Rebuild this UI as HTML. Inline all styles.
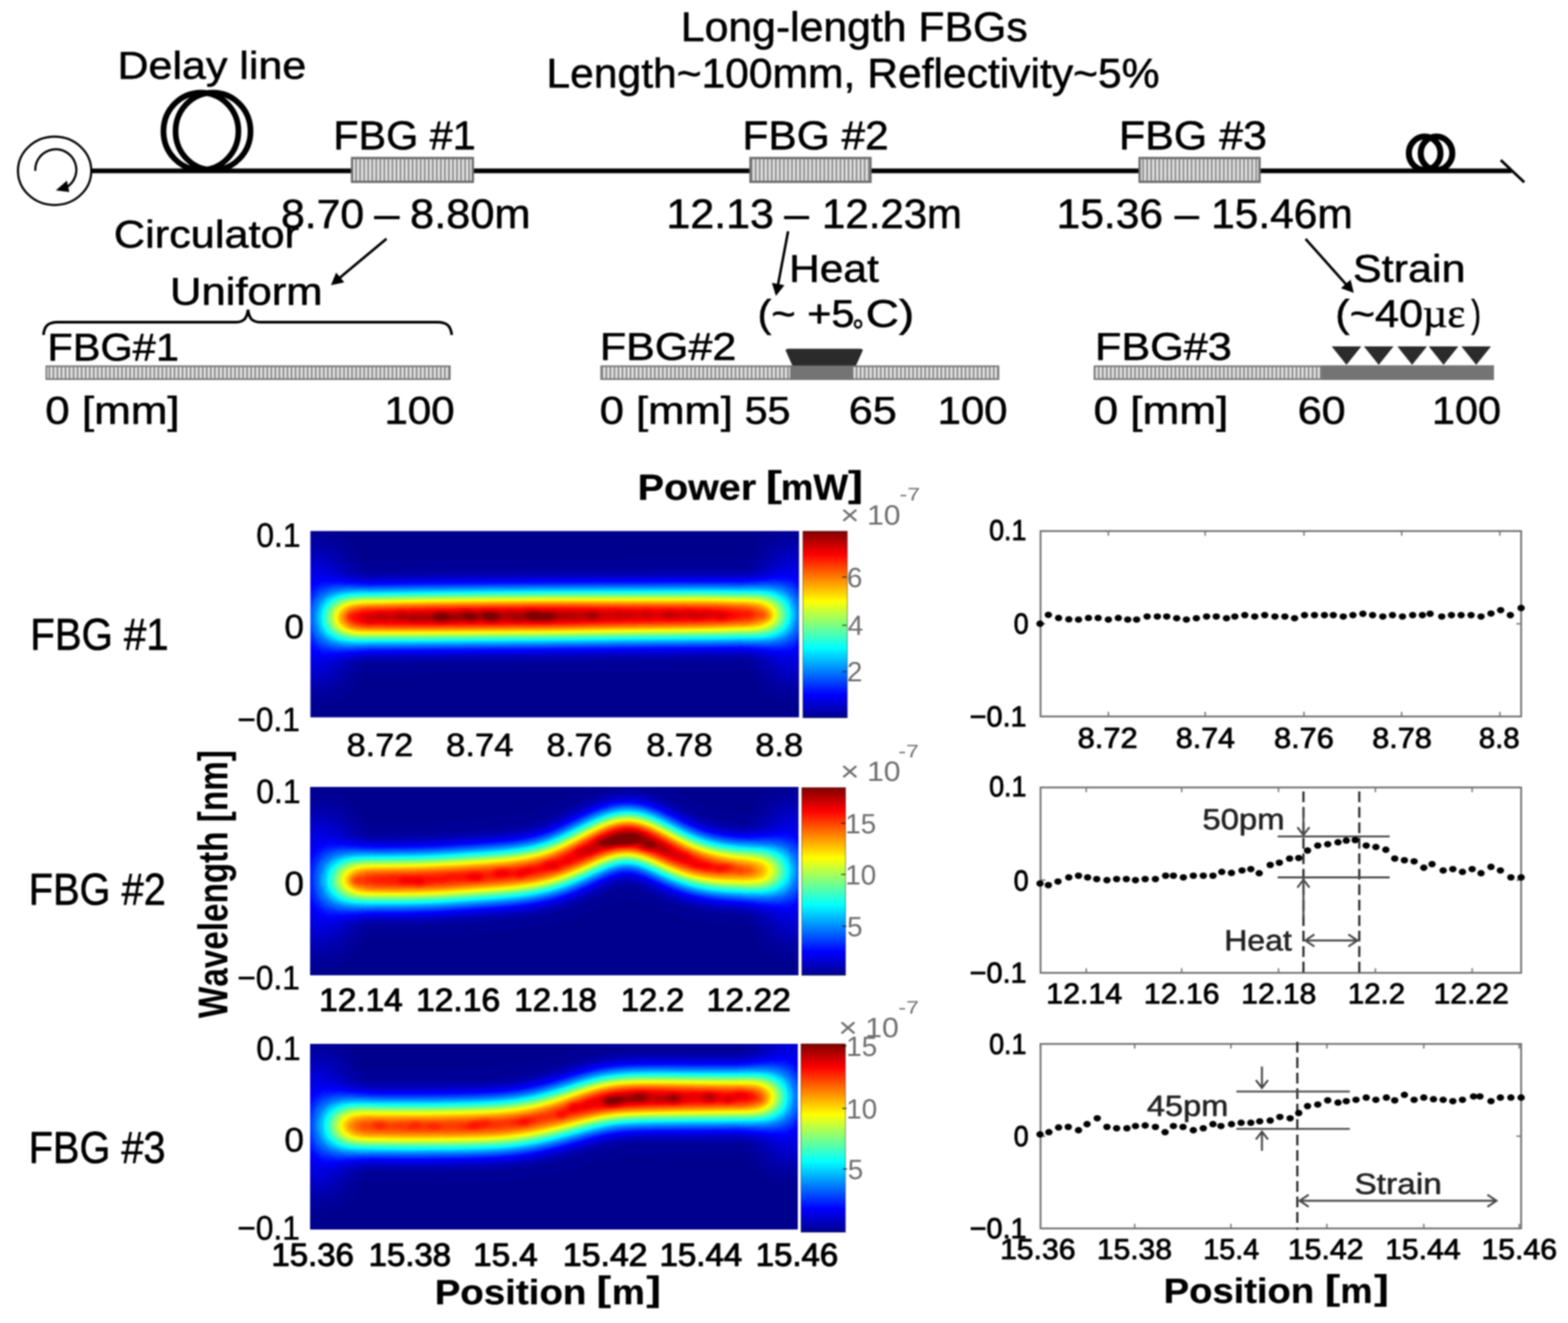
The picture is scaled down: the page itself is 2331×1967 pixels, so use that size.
<!DOCTYPE html>
<html lang="en"><head><meta charset="utf-8"><title>Long-length FBGs</title>
<style>
html,body{margin:0;padding:0;background:#fff;}
body{width:2331px;height:1967px;overflow:hidden;}
svg{display:block;filter:blur(1px);}
text{white-space:pre;font-kerning:none;text-rendering:geometricPrecision;}
</style></head><body>
<svg width="2331" height="1967" viewBox="0 0 2331 1967">
<defs>
<pattern id="stripe" width="6" height="10" patternUnits="userSpaceOnUse">
<rect width="6" height="10" fill="#e4e4e4"/><rect x="0" width="2.7" height="10" fill="#8e8e8e"/>
</pattern>
<linearGradient id="jetbar" x1="0" y1="1" x2="0" y2="0">
<stop offset="0" stop-color="#00008f"/><stop offset="0.125" stop-color="#0000ff"/><stop offset="0.375" stop-color="#00ffff"/><stop offset="0.625" stop-color="#ffff00"/><stop offset="0.875" stop-color="#ff0000"/><stop offset="1" stop-color="#800000"/>
</linearGradient>
<filter id="jet" filterUnits="userSpaceOnUse" x="300" y="600" width="1100" height="1400" color-interpolation-filters="sRGB">
<feComponentTransfer>
<feFuncR type="table" tableValues="0 0 0 0 0 0 0 0 0 0 0.167 0.333 0.5 0.667 0.833 1 1 1 1 1 1 1 0.833 0.667 0.5 0.5 0.5 0.5 0.5 0.5 0.5 0.5 0.5 0.5 0.5 0.5 0.5 0.5 0.5 0.5 0.5 0.5 0.5 0.5 0.5 0.5 0.5 0.5 0.5 0.5 0.5"/>
<feFuncG type="table" tableValues="0 0 0 0 0.167 0.333 0.5 0.667 0.833 1 1 1 1 1 1 1 0.833 0.667 0.5 0.333 0.167 0 0 0 0 0 0 0 0 0 0 0 0 0 0 0 0 0 0 0 0 0 0 0 0 0 0 0 0 0 0"/>
<feFuncB type="table" tableValues="0.562 0.708 0.854 1 1 1 1 1 1 1 0.833 0.667 0.5 0.333 0.167 0 0 0 0 0 0 0 0 0 0 0 0 0 0 0 0 0 0 0 0 0 0 0 0 0 0 0 0 0 0 0 0 0 0 0 0"/>
</feComponentTransfer>
</filter>
<filter id="bA" filterUnits="userSpaceOnUse" x="300" y="600" width="1100" height="1400" color-interpolation-filters="sRGB"><feGaussianBlur stdDeviation="24"/></filter>
<filter id="bB" filterUnits="userSpaceOnUse" x="300" y="600" width="1100" height="1400" color-interpolation-filters="sRGB"><feGaussianBlur stdDeviation="30"/></filter>
<filter id="bC" filterUnits="userSpaceOnUse" x="300" y="600" width="1100" height="1400" color-interpolation-filters="sRGB"><feGaussianBlur stdDeviation="4.5"/></filter>
<clipPath id="c1"><rect x="461.5" y="789.5" width="726.3" height="277"/></clipPath>
<clipPath id="c2"><rect x="461.5" y="1170.8" width="725.5" height="278.6"/></clipPath>
<clipPath id="c3"><rect x="461.5" y="1552.2" width="724.5" height="275"/></clipPath>
</defs>

<rect width="2331" height="1967" fill="#fff"/>
<g id="all">
<line x1="135" y1="254.0" x2="2247" y2="254.0" stroke="#000" stroke-width="7"/>
<ellipse cx="81.2" cy="254" rx="54.5" ry="50.8" fill="#fff" stroke="#000" stroke-width="3.2"/>
<path d="M52.5,254 A30.5,30.5 0 1 1 98,279" fill="none" stroke="#000" stroke-width="3.2"/>
<path d="M83,283 L99.5,268.5 L103,285.5 Z" fill="#000"/>
<ellipse cx="298.7" cy="195.2" rx="55.7" ry="57.5" fill="none" stroke="#000" stroke-width="8.5"/>
<ellipse cx="316.7" cy="195.2" rx="55.7" ry="57.5" fill="none" stroke="#000" stroke-width="8.5"/>
<ellipse cx="2117.9" cy="227.8" rx="23.5" ry="24.7" fill="none" stroke="#000" stroke-width="9"/>
<ellipse cx="2135.5" cy="227.8" rx="23.5" ry="24.7" fill="none" stroke="#000" stroke-width="9"/>
<line x1="2231" y1="238" x2="2266" y2="271" stroke="#000" stroke-width="4"/>
<rect x="523.35" y="234.95" width="179.60" height="35.40" fill="url(#stripe)" stroke="#6e6e6e" stroke-width="3.5"/>
<rect x="1115.65" y="234.95" width="178.40" height="35.40" fill="url(#stripe)" stroke="#6e6e6e" stroke-width="3.5"/>
<rect x="1694.15" y="234.95" width="178.30" height="35.40" fill="url(#stripe)" stroke="#6e6e6e" stroke-width="3.5"/>
<text transform="translate(174.73,117.30) scale(1.1112,1)" font-family='"Liberation Sans", sans-serif' font-size="57.5" fill="#000" stroke="#000" stroke-width="0.8" stroke-linejoin="round">Delay line</text>
<text transform="translate(1012.06,61.20) scale(1.0332,1)" font-family='"Liberation Sans", sans-serif' font-size="61.5" fill="#000" stroke="#000" stroke-width="0.8" stroke-linejoin="round">Long-length FBGs</text>
<text transform="translate(812.28,129.60) scale(1.0295,1)" font-family='"Liberation Sans", sans-serif' font-size="61.5" fill="#000" stroke="#000" stroke-width="0.8" stroke-linejoin="round">Length~100mm, Reflectivity~5%</text>
<text transform="translate(495.43,221.80) scale(1.0241,1)" font-family='"Liberation Sans", sans-serif' font-size="60" fill="#000" stroke="#000" stroke-width="0.8" stroke-linejoin="round">FBG #1</text>
<text transform="translate(1103.79,221.80) scale(1.0516,1)" font-family='"Liberation Sans", sans-serif' font-size="60" fill="#000" stroke="#000" stroke-width="0.8" stroke-linejoin="round">FBG #2</text>
<text transform="translate(1663.53,221.80) scale(1.0638,1)" font-family='"Liberation Sans", sans-serif' font-size="60" fill="#000" stroke="#000" stroke-width="0.8" stroke-linejoin="round">FBG #3</text>
<text transform="translate(417.70,338.60) scale(1.0511,1)" font-family='"Liberation Sans", sans-serif' font-size="60.5" fill="#000" stroke="#000" stroke-width="0.8" stroke-linejoin="round">8.70</text>
<text transform="translate(556.40,338.60) scale(1.0928,1)" font-family='"Liberation Sans", sans-serif' font-size="61.5" fill="#000" stroke="#000" stroke-width="0.8" stroke-linejoin="round">–</text>
<text transform="translate(609.56,338.60) scale(1.0477,1)" font-family='"Liberation Sans", sans-serif' font-size="61.5" fill="#000" stroke="#000" stroke-width="0.8" stroke-linejoin="round">8.80m</text>
<text transform="translate(990.71,338.60) scale(1.0383,1)" font-family='"Liberation Sans", sans-serif' font-size="61.5" fill="#000" stroke="#000" stroke-width="0.8" stroke-linejoin="round">12.13</text>
<text transform="translate(1165.90,338.60) scale(1.0664,1)" font-family='"Liberation Sans", sans-serif' font-size="61.5" fill="#000" stroke="#000" stroke-width="0.8" stroke-linejoin="round">–</text>
<text transform="translate(1222.02,338.60) scale(1.0143,1)" font-family='"Liberation Sans", sans-serif' font-size="61.5" fill="#000" stroke="#000" stroke-width="0.8" stroke-linejoin="round">12.23m</text>
<text transform="translate(1570.76,338.60) scale(1.0281,1)" font-family='"Liberation Sans", sans-serif' font-size="61.5" fill="#000" stroke="#000" stroke-width="0.8" stroke-linejoin="round">15.36</text>
<text transform="translate(1746.30,338.60) scale(1.0518,1)" font-family='"Liberation Sans", sans-serif' font-size="61.5" fill="#000" stroke="#000" stroke-width="0.8" stroke-linejoin="round">–</text>
<text transform="translate(1800.47,338.60) scale(1.0265,1)" font-family='"Liberation Sans", sans-serif' font-size="61.5" fill="#000" stroke="#000" stroke-width="0.8" stroke-linejoin="round">15.46m</text>
<text transform="translate(169.28,367.80) scale(1.1188,1)" font-family='"Liberation Sans", sans-serif' font-size="57.5" fill="#000" stroke="#000" stroke-width="0.8" stroke-linejoin="round">Circulator</text>
<text transform="translate(252.78,452.80) scale(1.1266,1)" font-family='"Liberation Sans", sans-serif' font-size="57.5" fill="#000" stroke="#000" stroke-width="0.8" stroke-linejoin="round">Uniform</text>
<text transform="translate(70.51,535.60) scale(1.0730,1)" font-family='"Liberation Sans", sans-serif' font-size="57.5" fill="#000" stroke="#000" stroke-width="0.8" stroke-linejoin="round">FBG#1</text>
<text transform="translate(891.71,534.90) scale(1.1145,1)" font-family='"Liberation Sans", sans-serif' font-size="57.5" fill="#000" stroke="#000" stroke-width="0.8" stroke-linejoin="round">FBG#2</text>
<text transform="translate(1627.70,535.40) scale(1.1181,1)" font-family='"Liberation Sans", sans-serif' font-size="57.5" fill="#000" stroke="#000" stroke-width="0.8" stroke-linejoin="round">FBG#3</text>
<text transform="translate(67.29,630.20) scale(1.1368,1)" font-family='"Liberation Sans", sans-serif' font-size="57.5" fill="#000" stroke="#000" stroke-width="0.8" stroke-linejoin="round">0 [mm]</text>
<text transform="translate(571.51,630.20) scale(1.0882,1)" font-family='"Liberation Sans", sans-serif' font-size="57.5" fill="#000" stroke="#000" stroke-width="0.8" stroke-linejoin="round">100</text>
<text transform="translate(891.41,630.20) scale(1.1279,1)" font-family='"Liberation Sans", sans-serif' font-size="57.5" fill="#000" stroke="#000" stroke-width="0.8" stroke-linejoin="round">0 [mm]</text>
<text transform="translate(1107.05,630.20) scale(1.0654,1)" font-family='"Liberation Sans", sans-serif' font-size="57.5" fill="#000" stroke="#000" stroke-width="0.8" stroke-linejoin="round">55</text>
<text transform="translate(1261.79,630.20) scale(1.1151,1)" font-family='"Liberation Sans", sans-serif' font-size="57.5" fill="#000" stroke="#000" stroke-width="0.8" stroke-linejoin="round">65</text>
<text transform="translate(1393.72,630.20) scale(1.0849,1)" font-family='"Liberation Sans", sans-serif' font-size="57.5" fill="#000" stroke="#000" stroke-width="0.8" stroke-linejoin="round">100</text>
<text transform="translate(1625.68,630.20) scale(1.1403,1)" font-family='"Liberation Sans", sans-serif' font-size="57.5" fill="#000" stroke="#000" stroke-width="0.8" stroke-linejoin="round">0 [mm]</text>
<text transform="translate(1929.20,630.20) scale(1.1141,1)" font-family='"Liberation Sans", sans-serif' font-size="57.5" fill="#000" stroke="#000" stroke-width="0.8" stroke-linejoin="round">60</text>
<text transform="translate(2128.68,630.20) scale(1.0703,1)" font-family='"Liberation Sans", sans-serif' font-size="57.5" fill="#000" stroke="#000" stroke-width="0.8" stroke-linejoin="round">100</text>
<text transform="translate(1173.09,418.80) scale(1.0981,1)" font-family='"Liberation Sans", sans-serif' font-size="57.5" fill="#000" stroke="#000" stroke-width="0.8" stroke-linejoin="round">Heat</text>
<text transform="translate(1126.14,486.20) scale(1.0735,1)" font-family='"Liberation Sans", sans-serif' font-size="57.5" fill="#000" stroke="#000" stroke-width="0.8" stroke-linejoin="round">(~ +5</text>
<text transform="translate(1266.93,509.20) scale(0.8769,1)" font-family='"Liberation Sans", sans-serif' font-size="48.875" fill="#000" stroke="#000" stroke-width="0.8" stroke-linejoin="round">°</text>
<text transform="translate(1286.88,486.20) scale(1.1902,1)" font-family='"Liberation Sans", sans-serif' font-size="57.5" fill="#000" stroke="#000" stroke-width="0.8" stroke-linejoin="round">C)</text>
<text transform="translate(2011.32,418.80) scale(1.1137,1)" font-family='"Liberation Sans", sans-serif' font-size="57.5" fill="#000" stroke="#000" stroke-width="0.8" stroke-linejoin="round">Strain</text>
<text transform="translate(1984.98,486.20) scale(1.1197,1)" font-family='"Liberation Sans", sans-serif' font-size="57.5" fill="#000" stroke="#000" stroke-width="0.8" stroke-linejoin="round">(~40</text>
<text transform="translate(2114.93,486.20) scale(1.0533,1)" font-family='"Liberation Serif", serif' font-size="60.375" fill="#000" stroke="#000" stroke-width="0.8" stroke-linejoin="round">µε</text>
<text transform="translate(2186.97,486.20) scale(0.7685,1)" font-family='"Liberation Sans", sans-serif' font-size="57.5" fill="#000" stroke="#000" stroke-width="0.8" stroke-linejoin="round">)</text>
<line x1="574.6" y1="355.0" x2="502.7" y2="415.0" stroke="#000" stroke-width="3.8"/>
<path d="M492.0,424.0 L499.7,405.2 L511.9,419.8 Z" fill="#000"/>
<line x1="1171.6" y1="343.8" x2="1156.1" y2="426.2" stroke="#000" stroke-width="3.8"/>
<path d="M1153.5,440.0 L1147.5,420.6 L1166.2,424.1 Z" fill="#000"/>
<line x1="1940.9" y1="355.3" x2="2003.3" y2="425.2" stroke="#000" stroke-width="3.8"/>
<path d="M2012.6,435.6 L1993.5,428.5 L2007.7,415.8 Z" fill="#000"/>
<path d="M64.6,498 C66,484 72,479 86,479 L350,479 C362,479 367,474 368.7,460.5 C370.5,474 375,479 388,479 L650,479 C664,479 670,484 671.6,498" fill="none" stroke="#000" stroke-width="4"/>
<rect x="68.95" y="544.55" width="599.70" height="19.10" fill="url(#stripe)" stroke="#787878" stroke-width="2.5"/>
<rect x="893.75" y="544.55" width="590.50" height="19.10" fill="url(#stripe)" stroke="#787878" stroke-width="2.5"/>
<rect x="1174.5" y="543.3" width="93.8" height="21.6" fill="#747474"/>
<rect x="1627.05" y="544.55" width="592.70" height="19.10" fill="url(#stripe)" stroke="#787878" stroke-width="2.5"/>
<rect x="1963.8" y="543.3" width="257.2" height="21.6" fill="#747474"/>
<path d="M1167.9,521 Q1168,518.5 1172,518.5 L1279,518.5 Q1282.6,518.5 1282.6,521 L1272.6,543.5 L1177.9,543.5 Z" fill="#2b2b2b"/>
<path d="M1979.7,515 L2023.7,515 L2001.7,542.5 Z" fill="#2b2b2b"/>
<path d="M2027.6,515 L2071.6,515 L2049.6,542.5 Z" fill="#2b2b2b"/>
<path d="M2077.3,515 L2121.3,515 L2099.3,542.5 Z" fill="#2b2b2b"/>
<path d="M2124,515 L2168,515 L2146,542.5 Z" fill="#2b2b2b"/>
<path d="M2172.5,515 L2216.5,515 L2194.5,542.5 Z" fill="#2b2b2b"/>
<linearGradient id="hg1" gradientUnits="userSpaceOnUse" x1="493" y1="0" x2="1162" y2="0"><stop offset="0" stop-color="#e0e0e0"/><stop offset="0.2" stop-color="#ebebeb"/><stop offset="0.5" stop-color="#ededed"/><stop offset="0.62" stop-color="#e6e6e6"/><stop offset="0.85" stop-color="#e0e0e0"/><stop offset="1" stop-color="#c7c7c7"/></linearGradient>
<g clip-path="url(#c1)"><g filter="url(#jet)">
<rect x="401.5" y="729.5" width="846.5" height="397.0" fill="#000"/>
<g filter="url(#bB)" opacity="0.1"><ellipse cx="471" cy="918.5" rx="30" ry="95" fill="#fff"/><ellipse cx="1180" cy="913.5" rx="30" ry="95" fill="#fff"/></g>
<g filter="url(#bB)" opacity="0.022"><path d="M493.0,918.5 C527.5,918.2 632.2,917.1 700.0,916.5 C767.8,915.9 823.0,915.5 900.0,915.0 C977.0,914.5 1118.3,913.8 1162.0,913.5" fill="none" stroke="#fff" stroke-width="105" stroke-linecap="butt" stroke-linejoin="round"/></g>
<g filter="url(#bA)"><path d="M493.0,918.5 C527.5,918.2 632.2,917.1 700.0,916.5 C767.8,915.9 823.0,915.5 900.0,915.0 C977.0,914.5 1118.3,913.8 1162.0,913.5" fill="none" stroke="url(#hg1)" stroke-width="30" stroke-linecap="butt" stroke-linejoin="round"/></g>
<g filter="url(#bC)"><ellipse cx="656" cy="917.5" rx="12.0" ry="6.8" fill="#fff" opacity="0.080"/><ellipse cx="700" cy="917" rx="10.5" ry="6.0" fill="#fff" opacity="0.064"/><ellipse cx="731" cy="917" rx="12.0" ry="6.8" fill="#fff" opacity="0.080"/><ellipse cx="794" cy="916" rx="12.0" ry="6.8" fill="#fff" opacity="0.080"/><ellipse cx="815" cy="916" rx="10.5" ry="6.0" fill="#fff" opacity="0.056"/><ellipse cx="880" cy="915" rx="10.5" ry="6.0" fill="#fff" opacity="0.040"/><ellipse cx="1000" cy="914" rx="10.5" ry="6.0" fill="#fff" opacity="0.024"/><ellipse cx="521" cy="916.1" rx="7.5" ry="6.2" fill="#fff" opacity="0.022"/><ellipse cx="537" cy="914.6" rx="9.3" ry="5.5" fill="#fff" opacity="0.001"/><ellipse cx="550" cy="921.9" rx="9.3" ry="6.0" fill="#fff" opacity="0.019"/><ellipse cx="566" cy="915.0" rx="9.5" ry="6.0" fill="#fff" opacity="0.025"/><ellipse cx="583" cy="919.0" rx="9.0" ry="6.2" fill="#fff" opacity="0.003"/><ellipse cx="596" cy="913.7" rx="7.9" ry="6.4" fill="#fff" opacity="0.035"/><ellipse cx="614" cy="919.0" rx="7.6" ry="6.6" fill="#fff" opacity="0.037"/><ellipse cx="629" cy="920.7" rx="6.4" ry="5.3" fill="#fff" opacity="0.035"/><ellipse cx="642" cy="920.8" rx="8.5" ry="5.6" fill="#fff" opacity="0.017"/><ellipse cx="657" cy="916.0" rx="8.3" ry="6.2" fill="#fff" opacity="0.014"/><ellipse cx="675" cy="918.2" rx="9.4" ry="7.0" fill="#fff" opacity="0.037"/><ellipse cx="691" cy="913.9" rx="9.9" ry="6.8" fill="#fff" opacity="0.034"/><ellipse cx="707" cy="918.2" rx="9.3" ry="6.1" fill="#fff" opacity="0.008"/><ellipse cx="720" cy="912.9" rx="10.0" ry="5.2" fill="#fff" opacity="0.034"/><ellipse cx="738" cy="915.5" rx="7.2" ry="6.5" fill="#fff" opacity="0.006"/><ellipse cx="756" cy="912.4" rx="6.2" ry="6.4" fill="#fff" opacity="0.025"/><ellipse cx="769" cy="919.0" rx="8.0" ry="7.0" fill="#fff" opacity="0.039"/><ellipse cx="783" cy="912.5" rx="6.1" ry="5.4" fill="#fff" opacity="0.024"/><ellipse cx="797" cy="916.7" rx="6.2" ry="6.7" fill="#fff" opacity="0.006"/><ellipse cx="810" cy="919.3" rx="7.5" ry="5.9" fill="#fff" opacity="0.036"/><ellipse cx="826" cy="916.7" rx="8.2" ry="6.2" fill="#fff" opacity="0.024"/><ellipse cx="844" cy="915.5" rx="8.9" ry="5.5" fill="#fff" opacity="0.017"/><ellipse cx="858" cy="919.1" rx="8.2" ry="5.0" fill="#fff" opacity="0.021"/><ellipse cx="872" cy="915.9" rx="8.5" ry="6.3" fill="#fff" opacity="0.001"/><ellipse cx="883" cy="916.1" rx="8.7" ry="5.7" fill="#fff" opacity="0.019"/><ellipse cx="900" cy="916.9" rx="6.2" ry="6.4" fill="#fff" opacity="0.001"/><ellipse cx="919" cy="912.9" rx="8.4" ry="5.6" fill="#fff" opacity="0.018"/><ellipse cx="933" cy="913.3" rx="8.4" ry="5.6" fill="#fff" opacity="0.015"/><ellipse cx="947" cy="916.9" rx="8.3" ry="6.5" fill="#fff" opacity="0.001"/><ellipse cx="960" cy="912.4" rx="7.0" ry="5.4" fill="#fff" opacity="0.032"/><ellipse cx="975" cy="916.2" rx="7.3" ry="5.7" fill="#fff" opacity="0.004"/><ellipse cx="992" cy="914.0" rx="6.7" ry="5.7" fill="#fff" opacity="0.034"/><ellipse cx="1008" cy="917.5" rx="6.9" ry="5.2" fill="#fff" opacity="0.018"/><ellipse cx="1024" cy="911.8" rx="9.4" ry="5.4" fill="#fff" opacity="0.032"/><ellipse cx="1037" cy="916.7" rx="9.2" ry="5.7" fill="#fff" opacity="0.026"/><ellipse cx="1049" cy="912.5" rx="7.1" ry="5.7" fill="#fff" opacity="0.032"/><ellipse cx="1063" cy="913.4" rx="9.7" ry="5.3" fill="#fff" opacity="0.016"/><ellipse cx="1074" cy="917.5" rx="9.9" ry="5.9" fill="#fff" opacity="0.035"/><ellipse cx="1093" cy="917.3" rx="9.0" ry="6.7" fill="#fff" opacity="0.009"/><ellipse cx="1109" cy="914.0" rx="7.4" ry="5.5" fill="#fff" opacity="0.012"/><ellipse cx="1121" cy="914.4" rx="9.2" ry="5.1" fill="#fff" opacity="0.011"/><ellipse cx="1139" cy="915.2" rx="9.6" ry="6.8" fill="#fff" opacity="0.037"/></g>
</g></g>
<rect x="1193.6" y="789.8" width="66.0" height="277.4" fill="url(#jetbar)"/>
<rect x="1193.6" y="789.8" width="66.0" height="277.4" fill="none" stroke="#000" stroke-opacity="0.35" stroke-width="1.5"/>
<linearGradient id="hg2" gradientUnits="userSpaceOnUse" x1="500" y1="0" x2="1162" y2="0"><stop offset="0" stop-color="#cccccc"/><stop offset="0.12" stop-color="#d6d6d6"/><stop offset="0.3" stop-color="#d4d4d4"/><stop offset="0.5" stop-color="#d6d6d6"/><stop offset="0.6" stop-color="#e6e6e6"/><stop offset="0.655" stop-color="#f0f0f0"/><stop offset="0.72" stop-color="#e6e6e6"/><stop offset="0.8" stop-color="#d9d9d9"/><stop offset="0.9" stop-color="#c2c2c2"/><stop offset="1" stop-color="#b2b2b2"/></linearGradient>
<g clip-path="url(#c2)"><g filter="url(#jet)">
<rect x="401.5" y="1110.8" width="845.5" height="398.60000000000014" fill="#000"/>
<g filter="url(#bB)" opacity="0.1"><ellipse cx="478" cy="1308.5" rx="30" ry="95" fill="#fff"/><ellipse cx="1180" cy="1295.5" rx="30" ry="95" fill="#fff"/></g>
<g filter="url(#bB)" opacity="0.022"><path d="M500.0,1308.5 C520.0,1308.4 586.7,1308.8 620.0,1308.0 C653.3,1307.2 673.3,1305.3 700.0,1303.5 C726.7,1301.7 758.3,1300.1 780.0,1297.0 C801.7,1293.9 813.3,1291.2 830.0,1285.0 C846.7,1278.8 865.8,1266.8 880.0,1260.0 C894.2,1253.2 906.0,1247.5 915.0,1244.0 C924.0,1240.5 927.3,1238.7 934.0,1239.0 C940.7,1239.3 945.7,1241.8 955.0,1246.0 C964.3,1250.2 977.5,1257.8 990.0,1264.0 C1002.5,1270.2 1015.0,1278.3 1030.0,1283.0 C1045.0,1287.7 1058.0,1289.9 1080.0,1292.0 C1102.0,1294.1 1148.3,1294.9 1162.0,1295.5" fill="none" stroke="#fff" stroke-width="105" stroke-linecap="butt" stroke-linejoin="round"/></g>
<g filter="url(#bA)"><path d="M500.0,1308.5 C520.0,1308.4 586.7,1308.8 620.0,1308.0 C653.3,1307.2 673.3,1305.3 700.0,1303.5 C726.7,1301.7 758.3,1300.1 780.0,1297.0 C801.7,1293.9 813.3,1291.2 830.0,1285.0 C846.7,1278.8 865.8,1266.8 880.0,1260.0 C894.2,1253.2 906.0,1247.5 915.0,1244.0 C924.0,1240.5 927.3,1238.7 934.0,1239.0 C940.7,1239.3 945.7,1241.8 955.0,1246.0 C964.3,1250.2 977.5,1257.8 990.0,1264.0 C1002.5,1270.2 1015.0,1278.3 1030.0,1283.0 C1045.0,1287.7 1058.0,1289.9 1080.0,1292.0 C1102.0,1294.1 1148.3,1294.9 1162.0,1295.5" fill="none" stroke="url(#hg2)" stroke-width="30" stroke-linecap="butt" stroke-linejoin="round"/></g>
<g filter="url(#bC)"><ellipse cx="928" cy="1250" rx="13.5" ry="7.6" fill="#fff" opacity="0.080"/><ellipse cx="905" cy="1254" rx="12.0" ry="6.8" fill="#fff" opacity="0.056"/><ellipse cx="960" cy="1258" rx="12.0" ry="6.8" fill="#fff" opacity="0.040"/><ellipse cx="605" cy="1309" rx="12.0" ry="6.8" fill="#fff" opacity="0.032"/><ellipse cx="528" cy="1309.4" rx="9.2" ry="6.9" fill="#fff" opacity="0.041"/><ellipse cx="545" cy="1311.7" rx="7.9" ry="6.9" fill="#fff" opacity="0.002"/><ellipse cx="561" cy="1311.5" rx="7.9" ry="5.5" fill="#fff" opacity="0.006"/><ellipse cx="576" cy="1308.8" rx="6.9" ry="5.6" fill="#fff" opacity="0.001"/><ellipse cx="595" cy="1310.2" rx="9.2" ry="5.3" fill="#fff" opacity="0.009"/><ellipse cx="611" cy="1305.1" rx="9.5" ry="5.4" fill="#fff" opacity="0.000"/><ellipse cx="623" cy="1311.7" rx="7.2" ry="6.9" fill="#fff" opacity="0.048"/><ellipse cx="639" cy="1308.4" rx="9.8" ry="6.4" fill="#fff" opacity="0.011"/><ellipse cx="658" cy="1309.0" rx="7.4" ry="5.3" fill="#fff" opacity="0.016"/><ellipse cx="670" cy="1301.7" rx="8.4" ry="5.0" fill="#fff" opacity="0.017"/><ellipse cx="686" cy="1303.0" rx="9.3" ry="6.0" fill="#fff" opacity="0.017"/><ellipse cx="700" cy="1303.4" rx="6.2" ry="7.0" fill="#fff" opacity="0.039"/><ellipse cx="711" cy="1304.6" rx="6.1" ry="6.6" fill="#fff" opacity="0.046"/><ellipse cx="725" cy="1302.1" rx="6.2" ry="5.4" fill="#fff" opacity="0.000"/><ellipse cx="743" cy="1297.5" rx="9.7" ry="6.9" fill="#fff" opacity="0.042"/><ellipse cx="757" cy="1297.7" rx="9.1" ry="5.2" fill="#fff" opacity="0.029"/><ellipse cx="774" cy="1299.9" rx="6.1" ry="6.9" fill="#fff" opacity="0.047"/><ellipse cx="786" cy="1294.3" rx="9.7" ry="5.7" fill="#fff" opacity="0.034"/><ellipse cx="804" cy="1291.5" rx="7.3" ry="5.4" fill="#fff" opacity="0.017"/><ellipse cx="816" cy="1285.6" rx="10.0" ry="5.3" fill="#fff" opacity="0.038"/><ellipse cx="827" cy="1289.6" rx="7.6" ry="5.5" fill="#fff" opacity="0.029"/><ellipse cx="843" cy="1281.1" rx="7.7" ry="5.1" fill="#fff" opacity="0.025"/><ellipse cx="861" cy="1265.6" rx="9.4" ry="5.3" fill="#fff" opacity="0.027"/><ellipse cx="878" cy="1264.5" rx="9.2" ry="5.2" fill="#fff" opacity="0.035"/><ellipse cx="893" cy="1251.4" rx="7.2" ry="5.9" fill="#fff" opacity="0.046"/><ellipse cx="912" cy="1248.3" rx="7.8" ry="6.0" fill="#fff" opacity="0.054"/><ellipse cx="928" cy="1240.3" rx="7.6" ry="5.3" fill="#fff" opacity="0.016"/><ellipse cx="943" cy="1245.7" rx="8.5" ry="6.0" fill="#fff" opacity="0.053"/><ellipse cx="956" cy="1243.3" rx="9.1" ry="6.7" fill="#fff" opacity="0.015"/><ellipse cx="970" cy="1256.1" rx="8.8" ry="6.3" fill="#fff" opacity="0.043"/><ellipse cx="987" cy="1261.5" rx="7.1" ry="6.0" fill="#fff" opacity="0.039"/><ellipse cx="1004" cy="1272.3" rx="9.8" ry="6.3" fill="#fff" opacity="0.016"/><ellipse cx="1020" cy="1274.3" rx="7.0" ry="6.3" fill="#fff" opacity="0.030"/><ellipse cx="1035" cy="1286.4" rx="9.2" ry="5.7" fill="#fff" opacity="0.036"/><ellipse cx="1051" cy="1288.7" rx="7.4" ry="6.7" fill="#fff" opacity="0.046"/><ellipse cx="1069" cy="1291.5" rx="9.8" ry="6.0" fill="#fff" opacity="0.054"/><ellipse cx="1084" cy="1289.5" rx="9.7" ry="6.0" fill="#fff" opacity="0.046"/><ellipse cx="1101" cy="1294.6" rx="6.7" ry="6.6" fill="#fff" opacity="0.040"/><ellipse cx="1116" cy="1294.9" rx="8.5" ry="6.5" fill="#fff" opacity="0.023"/><ellipse cx="1132" cy="1296.0" rx="6.6" ry="5.9" fill="#fff" opacity="0.002"/></g>
</g></g>
<rect x="1192.0" y="1171" width="65.0" height="279.0" fill="url(#jetbar)"/>
<rect x="1192.0" y="1171" width="65.0" height="279.0" fill="none" stroke="#000" stroke-opacity="0.35" stroke-width="1.5"/>
<linearGradient id="hg3" gradientUnits="userSpaceOnUse" x1="495" y1="0" x2="1157" y2="0"><stop offset="0" stop-color="#c9c9c9"/><stop offset="0.3" stop-color="#cccccc"/><stop offset="0.5" stop-color="#cccccc"/><stop offset="0.6" stop-color="#e0e0e0"/><stop offset="0.66" stop-color="#ebebeb"/><stop offset="0.8" stop-color="#e0e0e0"/><stop offset="1" stop-color="#d4d4d4"/></linearGradient>
<g clip-path="url(#c3)"><g filter="url(#jet)">
<rect x="401.5" y="1492.2" width="844.5" height="394.79999999999995" fill="#000"/>
<g filter="url(#bB)" opacity="0.1"><ellipse cx="473" cy="1673.5" rx="30" ry="95" fill="#fff"/><ellipse cx="1175" cy="1630.8" rx="30" ry="95" fill="#fff"/></g>
<g filter="url(#bB)" opacity="0.022"><path d="M495.0,1673.5 C511.4,1673.8 560.2,1674.9 593.5,1675.0 C626.8,1675.1 667.1,1674.7 694.9,1674.0 C722.6,1673.3 740.8,1673.0 760.0,1671.0 C779.2,1669.0 793.8,1665.8 810.0,1662.0 C826.2,1658.2 842.7,1652.3 857.0,1648.0 C871.3,1643.7 883.8,1638.6 896.0,1636.0 C908.2,1633.4 912.8,1633.2 930.0,1632.5 C947.2,1631.8 974.8,1631.9 999.0,1631.8 C1023.2,1631.7 1048.7,1632.0 1075.0,1631.8 C1101.3,1631.6 1143.3,1631.0 1157.0,1630.8" fill="none" stroke="#fff" stroke-width="105" stroke-linecap="butt" stroke-linejoin="round"/></g>
<g filter="url(#bA)"><path d="M495.0,1673.5 C511.4,1673.8 560.2,1674.9 593.5,1675.0 C626.8,1675.1 667.1,1674.7 694.9,1674.0 C722.6,1673.3 740.8,1673.0 760.0,1671.0 C779.2,1669.0 793.8,1665.8 810.0,1662.0 C826.2,1658.2 842.7,1652.3 857.0,1648.0 C871.3,1643.7 883.8,1638.6 896.0,1636.0 C908.2,1633.4 912.8,1633.2 930.0,1632.5 C947.2,1631.8 974.8,1631.9 999.0,1631.8 C1023.2,1631.7 1048.7,1632.0 1075.0,1631.8 C1101.3,1631.6 1143.3,1631.0 1157.0,1630.8" fill="none" stroke="url(#hg3)" stroke-width="30" stroke-linecap="butt" stroke-linejoin="round"/></g>
<g filter="url(#bC)"><ellipse cx="912" cy="1637" rx="13.5" ry="7.6" fill="#fff" opacity="0.080"/><ellipse cx="950" cy="1632" rx="12.0" ry="6.8" fill="#fff" opacity="0.064"/><ellipse cx="930" cy="1634" rx="10.5" ry="6.0" fill="#fff" opacity="0.048"/><ellipse cx="1000" cy="1632" rx="10.5" ry="6.0" fill="#fff" opacity="0.032"/><ellipse cx="1060" cy="1632" rx="10.5" ry="6.0" fill="#fff" opacity="0.032"/><ellipse cx="1115" cy="1630" rx="10.5" ry="6.0" fill="#fff" opacity="0.024"/><ellipse cx="523" cy="1672.5" rx="8.6" ry="5.1" fill="#fff" opacity="0.008"/><ellipse cx="538" cy="1673.1" rx="8.0" ry="5.1" fill="#fff" opacity="0.003"/><ellipse cx="553" cy="1670.9" rx="7.7" ry="6.7" fill="#fff" opacity="0.005"/><ellipse cx="565" cy="1672.3" rx="9.8" ry="6.2" fill="#fff" opacity="0.035"/><ellipse cx="579" cy="1678.6" rx="9.4" ry="5.6" fill="#fff" opacity="0.003"/><ellipse cx="591" cy="1671.9" rx="9.3" ry="5.4" fill="#fff" opacity="0.017"/><ellipse cx="607" cy="1676.0" rx="8.2" ry="5.1" fill="#fff" opacity="0.020"/><ellipse cx="618" cy="1672.4" rx="7.7" ry="5.6" fill="#fff" opacity="0.037"/><ellipse cx="634" cy="1674.2" rx="9.2" ry="6.4" fill="#fff" opacity="0.016"/><ellipse cx="647" cy="1675.1" rx="9.5" ry="6.5" fill="#fff" opacity="0.029"/><ellipse cx="660" cy="1678.2" rx="7.7" ry="6.5" fill="#fff" opacity="0.006"/><ellipse cx="672" cy="1674.1" rx="8.7" ry="6.5" fill="#fff" opacity="0.002"/><ellipse cx="688" cy="1677.1" rx="8.8" ry="6.2" fill="#fff" opacity="0.017"/><ellipse cx="704" cy="1673.2" rx="9.8" ry="5.9" fill="#fff" opacity="0.046"/><ellipse cx="720" cy="1669.3" rx="8.6" ry="7.0" fill="#fff" opacity="0.039"/><ellipse cx="737" cy="1670.3" rx="8.7" ry="5.0" fill="#fff" opacity="0.021"/><ellipse cx="752" cy="1668.7" rx="6.2" ry="6.5" fill="#fff" opacity="0.006"/><ellipse cx="764" cy="1668.2" rx="9.5" ry="5.2" fill="#fff" opacity="0.022"/><ellipse cx="779" cy="1668.0" rx="9.3" ry="6.7" fill="#fff" opacity="0.049"/><ellipse cx="792" cy="1664.6" rx="9.5" ry="6.9" fill="#fff" opacity="0.020"/><ellipse cx="804" cy="1660.4" rx="6.9" ry="6.0" fill="#fff" opacity="0.013"/><ellipse cx="820" cy="1657.1" rx="7.7" ry="5.7" fill="#fff" opacity="0.000"/><ellipse cx="835" cy="1658.0" rx="8.1" ry="6.2" fill="#fff" opacity="0.038"/><ellipse cx="852" cy="1646.0" rx="9.1" ry="6.7" fill="#fff" opacity="0.049"/><ellipse cx="869" cy="1643.4" rx="6.4" ry="6.3" fill="#fff" opacity="0.022"/><ellipse cx="881" cy="1637.2" rx="6.6" ry="5.7" fill="#fff" opacity="0.011"/><ellipse cx="892" cy="1633.2" rx="6.4" ry="5.7" fill="#fff" opacity="0.008"/><ellipse cx="903" cy="1638.2" rx="6.6" ry="5.5" fill="#fff" opacity="0.034"/><ellipse cx="917" cy="1632.7" rx="9.4" ry="7.0" fill="#fff" opacity="0.007"/><ellipse cx="932" cy="1632.4" rx="6.4" ry="5.7" fill="#fff" opacity="0.005"/><ellipse cx="945" cy="1635.0" rx="6.1" ry="6.9" fill="#fff" opacity="0.009"/><ellipse cx="960" cy="1629.4" rx="6.1" ry="6.1" fill="#fff" opacity="0.030"/><ellipse cx="979" cy="1634.9" rx="7.0" ry="5.7" fill="#fff" opacity="0.038"/><ellipse cx="991" cy="1634.1" rx="9.1" ry="5.7" fill="#fff" opacity="0.029"/><ellipse cx="1004" cy="1634.3" rx="9.4" ry="6.6" fill="#fff" opacity="0.054"/><ellipse cx="1022" cy="1633.7" rx="8.1" ry="5.7" fill="#fff" opacity="0.012"/><ellipse cx="1033" cy="1628.0" rx="7.0" ry="6.4" fill="#fff" opacity="0.015"/><ellipse cx="1052" cy="1631.4" rx="10.0" ry="6.9" fill="#fff" opacity="0.052"/><ellipse cx="1066" cy="1629.6" rx="6.8" ry="5.4" fill="#fff" opacity="0.012"/><ellipse cx="1082" cy="1634.9" rx="7.9" ry="6.3" fill="#fff" opacity="0.046"/><ellipse cx="1099" cy="1628.2" rx="9.6" ry="6.6" fill="#fff" opacity="0.036"/><ellipse cx="1116" cy="1631.1" rx="9.2" ry="5.7" fill="#fff" opacity="0.010"/><ellipse cx="1133" cy="1634.9" rx="7.6" ry="6.9" fill="#fff" opacity="0.022"/></g>
</g></g>
<rect x="1190.8" y="1552" width="66.0" height="280.0" fill="url(#jetbar)"/>
<rect x="1190.8" y="1552" width="66.0" height="280.0" fill="none" stroke="#000" stroke-opacity="0.35" stroke-width="1.5"/>
<text transform="translate(380.91,813.00) scale(0.9380,1)" font-family='"Liberation Sans", sans-serif' font-size="50.5" fill="#000" stroke="#000" stroke-width="0.7" stroke-linejoin="round">0.1</text>
<text transform="translate(422.71,949.00) scale(1.0368,1)" font-family='"Liberation Sans", sans-serif' font-size="50.5" fill="#000" stroke="#000" stroke-width="0.7" stroke-linejoin="round">0</text>
<text transform="translate(352.64,1087.20) scale(0.9347,1)" font-family='"Liberation Sans", sans-serif' font-size="50.5" fill="#000" stroke="#000" stroke-width="0.7" stroke-linejoin="round">−0.1</text>
<text transform="translate(380.91,1194.00) scale(0.9380,1)" font-family='"Liberation Sans", sans-serif' font-size="50.5" fill="#000" stroke="#000" stroke-width="0.7" stroke-linejoin="round">0.1</text>
<text transform="translate(422.71,1330.50) scale(1.0368,1)" font-family='"Liberation Sans", sans-serif' font-size="50.5" fill="#000" stroke="#000" stroke-width="0.7" stroke-linejoin="round">0</text>
<text transform="translate(352.64,1470.50) scale(0.9347,1)" font-family='"Liberation Sans", sans-serif' font-size="50.5" fill="#000" stroke="#000" stroke-width="0.7" stroke-linejoin="round">−0.1</text>
<text transform="translate(380.91,1575.50) scale(0.9380,1)" font-family='"Liberation Sans", sans-serif' font-size="50.5" fill="#000" stroke="#000" stroke-width="0.7" stroke-linejoin="round">0.1</text>
<text transform="translate(422.71,1711.50) scale(1.0368,1)" font-family='"Liberation Sans", sans-serif' font-size="50.5" fill="#000" stroke="#000" stroke-width="0.7" stroke-linejoin="round">0</text>
<text transform="translate(352.64,1842.70) scale(0.9347,1)" font-family='"Liberation Sans", sans-serif' font-size="50.5" fill="#000" stroke="#000" stroke-width="0.7" stroke-linejoin="round">−0.1</text>
<text transform="translate(515.13,1124.00) scale(1.0616,1)" font-family='"Liberation Sans", sans-serif' font-size="48" fill="#000" stroke="#000" stroke-width="0.9" stroke-linejoin="round">8.72</text>
<text transform="translate(663.11,1124.00) scale(1.0733,1)" font-family='"Liberation Sans", sans-serif' font-size="48" fill="#000" stroke="#000" stroke-width="0.9" stroke-linejoin="round">8.74</text>
<text transform="translate(812.57,1124.00) scale(1.0439,1)" font-family='"Liberation Sans", sans-serif' font-size="48" fill="#000" stroke="#000" stroke-width="0.9" stroke-linejoin="round">8.76</text>
<text transform="translate(960.64,1124.00) scale(1.0573,1)" font-family='"Liberation Sans", sans-serif' font-size="48" fill="#000" stroke="#000" stroke-width="0.9" stroke-linejoin="round">8.78</text>
<text transform="translate(1122.72,1124.00) scale(1.0664,1)" font-family='"Liberation Sans", sans-serif' font-size="48" fill="#000" stroke="#000" stroke-width="0.9" stroke-linejoin="round">8.8</text>
<text transform="translate(474.58,1502.50) scale(1.0330,1)" font-family='"Liberation Sans", sans-serif' font-size="48" fill="#000" stroke="#000" stroke-width="1.5" stroke-linejoin="round">12.14</text>
<text transform="translate(618.56,1502.50) scale(1.0395,1)" font-family='"Liberation Sans", sans-serif' font-size="48" fill="#000" stroke="#000" stroke-width="1.5" stroke-linejoin="round">12.16</text>
<text transform="translate(764.62,1502.50) scale(1.0211,1)" font-family='"Liberation Sans", sans-serif' font-size="48" fill="#000" stroke="#000" stroke-width="1.5" stroke-linejoin="round">12.18</text>
<text transform="translate(922.97,1502.50) scale(1.0096,1)" font-family='"Liberation Sans", sans-serif' font-size="48" fill="#000" stroke="#000" stroke-width="1.5" stroke-linejoin="round">12.2</text>
<text transform="translate(1050.35,1502.50) scale(1.0428,1)" font-family='"Liberation Sans", sans-serif' font-size="48" fill="#000" stroke="#000" stroke-width="1.5" stroke-linejoin="round">12.22</text>
<text transform="translate(403.53,1882.00) scale(1.0203,1)" font-family='"Liberation Sans", sans-serif' font-size="48" fill="#000" stroke="#000" stroke-width="1.5" stroke-linejoin="round">15.36</text>
<text transform="translate(548.03,1882.00) scale(1.0203,1)" font-family='"Liberation Sans", sans-serif' font-size="48" fill="#000" stroke="#000" stroke-width="1.5" stroke-linejoin="round">15.38</text>
<text transform="translate(703.62,1882.00) scale(1.0233,1)" font-family='"Liberation Sans", sans-serif' font-size="48" fill="#000" stroke="#000" stroke-width="1.5" stroke-linejoin="round">15.4</text>
<text transform="translate(836.83,1882.00) scale(1.0463,1)" font-family='"Liberation Sans", sans-serif' font-size="48" fill="#000" stroke="#000" stroke-width="1.5" stroke-linejoin="round">15.42</text>
<text transform="translate(980.42,1882.00) scale(1.0234,1)" font-family='"Liberation Sans", sans-serif' font-size="48" fill="#000" stroke="#000" stroke-width="1.5" stroke-linejoin="round">15.44</text>
<text transform="translate(1123.43,1882.00) scale(1.0203,1)" font-family='"Liberation Sans", sans-serif' font-size="48" fill="#000" stroke="#000" stroke-width="1.5" stroke-linejoin="round">15.46</text>
<text transform="translate(948.04,743.30) scale(1.0857,1)" font-family='"Liberation Sans", sans-serif' font-size="54" font-weight="bold" fill="#000" stroke="#000" stroke-width="0.4" stroke-linejoin="round">Power</text>
<text transform="translate(1138.32,737.80) scale(1.3417,1)" font-family='"Liberation Sans", sans-serif' font-size="54" font-weight="bold" fill="#000" stroke="#000" stroke-width="0.4" stroke-linejoin="round">[</text>
<text transform="translate(1160.75,743.30) scale(1.0121,1)" font-family='"Liberation Sans", sans-serif' font-size="54" font-weight="bold" fill="#000" stroke="#000" stroke-width="0.4" stroke-linejoin="round">mW</text>
<text transform="translate(1260.67,737.80) scale(1.2299,1)" font-family='"Liberation Sans", sans-serif' font-size="54" font-weight="bold" fill="#000" stroke="#000" stroke-width="0.4" stroke-linejoin="round">]</text>
<text transform="translate(646.24,1939.00) scale(1.0994,1)" font-family='"Liberation Sans", sans-serif' font-size="52" font-weight="bold" fill="#000" stroke="#000" stroke-width="0.4" stroke-linejoin="round">Position</text>
<text transform="translate(886.63,1934.30) scale(1.2482,1)" font-family='"Liberation Sans", sans-serif' font-size="52" font-weight="bold" fill="#000" stroke="#000" stroke-width="0.4" stroke-linejoin="round">[</text>
<text transform="translate(909.51,1939.00) scale(1.0618,1)" font-family='"Liberation Sans", sans-serif' font-size="52" font-weight="bold" fill="#000" stroke="#000" stroke-width="0.4" stroke-linejoin="round">m</text>
<text transform="translate(961.09,1934.30) scale(1.2482,1)" font-family='"Liberation Sans", sans-serif' font-size="52" font-weight="bold" fill="#000" stroke="#000" stroke-width="0.4" stroke-linejoin="round">]</text>
<text transform="translate(337.50,1513.72) rotate(-90) scale(0.7975,1)" font-family='"Liberation Sans", sans-serif' font-size="62" font-weight="bold" fill="#000">Wavelength [nm]</text>
<line x1="1252.1" y1="858" x2="1258.6" y2="858" stroke="#000" stroke-opacity="0.6" stroke-width="2"/>
<text transform="translate(1259.02,872.52) scale(1.0000,1)" font-family='"Liberation Sans", sans-serif' font-size="41.5" fill="#6e6e6e">6</text>
<line x1="1252.1" y1="929.6" x2="1258.6" y2="929.6" stroke="#000" stroke-opacity="0.6" stroke-width="2"/>
<text transform="translate(1260.17,944.12) scale(1.0000,1)" font-family='"Liberation Sans", sans-serif' font-size="41.5" fill="#6e6e6e">4</text>
<line x1="1252.1" y1="998.5" x2="1258.6" y2="998.5" stroke="#000" stroke-opacity="0.6" stroke-width="2"/>
<text transform="translate(1259.02,1013.02) scale(1.0000,1)" font-family='"Liberation Sans", sans-serif' font-size="41.5" fill="#6e6e6e">2</text>
<line x1="1250.5" y1="1224" x2="1257.0" y2="1224" stroke="#000" stroke-opacity="0.6" stroke-width="2"/>
<text transform="translate(1256.39,1238.53) scale(1.0000,1)" font-family='"Liberation Sans", sans-serif' font-size="41.5" fill="#6e6e6e">15</text>
<line x1="1250.5" y1="1300" x2="1257.0" y2="1300" stroke="#000" stroke-opacity="0.6" stroke-width="2"/>
<text transform="translate(1256.39,1314.53) scale(1.0000,1)" font-family='"Liberation Sans", sans-serif' font-size="41.5" fill="#6e6e6e">10</text>
<line x1="1252" y1="1377" x2="1258.5" y2="1377" stroke="#000" stroke-opacity="0.6" stroke-width="2"/>
<text transform="translate(1259.34,1391.53) scale(1.0000,1)" font-family='"Liberation Sans", sans-serif' font-size="41.5" fill="#6e6e6e">5</text>
<line x1="1252" y1="1555" x2="1258.5" y2="1555" stroke="#000" stroke-opacity="0.6" stroke-width="2"/>
<text transform="translate(1257.89,1569.53) scale(1.0000,1)" font-family='"Liberation Sans", sans-serif' font-size="41.5" fill="#6e6e6e">15</text>
<line x1="1252" y1="1648" x2="1258.5" y2="1648" stroke="#000" stroke-opacity="0.6" stroke-width="2"/>
<text transform="translate(1257.89,1662.53) scale(1.0000,1)" font-family='"Liberation Sans", sans-serif' font-size="41.5" fill="#6e6e6e">10</text>
<line x1="1253" y1="1738" x2="1259.5" y2="1738" stroke="#000" stroke-opacity="0.6" stroke-width="2"/>
<text transform="translate(1260.34,1752.53) scale(1.0000,1)" font-family='"Liberation Sans", sans-serif' font-size="41.5" fill="#6e6e6e">5</text>
<text transform="translate(1249.22,780.00) scale(1.1642,1)" font-family='"Liberation Sans", sans-serif' font-size="41.5" fill="#6e6e6e">×</text>
<text transform="translate(1288.94,780.00) scale(1.0798,1)" font-family='"Liberation Sans", sans-serif' font-size="41.5" fill="#6e6e6e">10</text>
<text transform="translate(1337.26,743.70) scale(1.2712,1)" font-family='"Liberation Sans", sans-serif' font-size="27" fill="#6e6e6e">-7</text>
<text transform="translate(1249.22,1161.00) scale(1.1642,1)" font-family='"Liberation Sans", sans-serif' font-size="41.5" fill="#6e6e6e">×</text>
<text transform="translate(1288.94,1161.00) scale(1.0798,1)" font-family='"Liberation Sans", sans-serif' font-size="41.5" fill="#6e6e6e">10</text>
<text transform="translate(1335.46,1126.00) scale(1.2712,1)" font-family='"Liberation Sans", sans-serif' font-size="27" fill="#6e6e6e">-7</text>
<text transform="translate(1246.62,1541.60) scale(1.1642,1)" font-family='"Liberation Sans", sans-serif' font-size="41.5" fill="#6e6e6e">×</text>
<text transform="translate(1286.34,1541.60) scale(1.0798,1)" font-family='"Liberation Sans", sans-serif' font-size="41.5" fill="#6e6e6e">10</text>
<text transform="translate(1335.46,1507.00) scale(1.2712,1)" font-family='"Liberation Sans", sans-serif' font-size="27" fill="#6e6e6e">-7</text>
<rect x="1546.9" y="789.6" width="714.4" height="275.6" fill="#fff" stroke="#6c6c6c" stroke-width="2.6"/>
<path d="M1647.7,1065.2 v-7 M1647.7,789.6 v7 M1791.6,1065.2 v-7 M1791.6,789.6 v7 M1938.5,1065.2 v-7 M1938.5,789.6 v7 M2083.7,1065.2 v-7 M2083.7,789.6 v7 M2229.7,1065.2 v-7 M2229.7,789.6 v7 M1546.9,927.4 h7 M2261.3,927.4 h-7" stroke="#6c6c6c" stroke-width="2" fill="none"/>
<rect x="1546.9" y="1170.8" width="714.4" height="275.6" fill="#fff" stroke="#6c6c6c" stroke-width="2.6"/>
<path d="M1614.8,1446.4 v-7 M1614.8,1170.8 v7 M1756.7,1446.4 v-7 M1756.7,1170.8 v7 M1900.6,1446.4 v-7 M1900.6,1170.8 v7 M2044.6,1446.4 v-7 M2044.6,1170.8 v7 M2188.5,1446.4 v-7 M2188.5,1170.8 v7 M1546.9,1308.6 h7 M2261.3,1308.6 h-7" stroke="#6c6c6c" stroke-width="2" fill="none"/>
<rect x="1546.9" y="1552.1" width="714.4" height="274.3" fill="#fff" stroke="#6c6c6c" stroke-width="2.6"/>
<path d="M1546.9,1826.4 v-7 M1546.9,1552.1 v7 M1686.8,1826.4 v-7 M1686.8,1552.1 v7 M1829.9,1826.4 v-7 M1829.9,1552.1 v7 M1972.6,1826.4 v-7 M1972.6,1552.1 v7 M2116.6,1826.4 v-7 M2116.6,1552.1 v7 M2258.5,1826.4 v-7 M2258.5,1552.1 v7 M1546.9,1689.2 h7 M2261.3,1689.2 h-7" stroke="#6c6c6c" stroke-width="2" fill="none"/>
<line x1="1937.7" y1="1176.8" x2="1937.7" y2="1450.4" stroke="#2e2e2e" stroke-width="3.3" stroke-dasharray="16 7"/>
<line x1="2020.7" y1="1176.8" x2="2020.7" y2="1450.4" stroke="#2e2e2e" stroke-width="3.3" stroke-dasharray="16 7"/>
<path d="M1899.4,1243.6 H2066 M1899.4,1304.5 H2066" stroke="#4a4a4a" stroke-width="2.8" fill="none"/>
<path d="M1937.7,1201.7 L1937.7,1241.5 M1928.7,1229.8 L1937.7,1241.5 L1946.7,1229.8" fill="none" stroke="#4a4a4a" stroke-width="3"/>
<path d="M1937.7,1364 L1937.7,1308 M1928.7,1319.7 L1937.7,1308 L1946.7,1319.7" fill="none" stroke="#4a4a4a" stroke-width="3"/>
<path d="M1940.5,1398.3 L2018,1398.3 M1954.0,1389.3 L1940.5,1398.3 L1954.0,1407.3 M2004.5,1389.3 L2018,1398.3 L2004.5,1407.3" fill="none" stroke="#4a4a4a" stroke-width="3"/>
<line x1="1928.6" y1="1549.1" x2="1928.6" y2="1828.4" stroke="#2e2e2e" stroke-width="3.3" stroke-dasharray="16 7"/>
<path d="M1838,1622.8 H2006.7 M1838,1678.3 H2006.7" stroke="#4a4a4a" stroke-width="2.8" fill="none"/>
<path d="M1876,1585.8 L1876,1617.5 M1867,1605.8 L1876,1617.5 L1885,1605.8" fill="none" stroke="#4a4a4a" stroke-width="3"/>
<path d="M1876,1711 L1876,1682.5 M1867,1694.2 L1876,1682.5 L1885,1694.2" fill="none" stroke="#4a4a4a" stroke-width="3"/>
<path d="M1932,1785.3 L2224.7,1785.3 M1945.5,1776.3 L1932,1785.3 L1945.5,1794.3 M2211.2,1776.3 L2224.7,1785.3 L2211.2,1794.3" fill="none" stroke="#4a4a4a" stroke-width="3"/>
<g fill="#000"><ellipse cx="1546.1" cy="927.4" rx="5.5" ry="4.8"/><ellipse cx="1558.5" cy="914.2" rx="5.5" ry="4.8"/><ellipse cx="1573.7" cy="918.8" rx="5.5" ry="4.8"/><ellipse cx="1588.9" cy="920.8" rx="5.5" ry="4.8"/><ellipse cx="1603.3" cy="921.2" rx="5.5" ry="4.8"/><ellipse cx="1618.1" cy="918.8" rx="5.5" ry="4.8"/><ellipse cx="1632.5" cy="918.8" rx="5.5" ry="4.8"/><ellipse cx="1647.7" cy="921.2" rx="5.5" ry="4.8"/><ellipse cx="1662.5" cy="918.8" rx="5.5" ry="4.8"/><ellipse cx="1676.5" cy="921.2" rx="5.5" ry="4.8"/><ellipse cx="1689.7" cy="921.2" rx="5.5" ry="4.8"/><ellipse cx="1705.3" cy="916.7" rx="5.5" ry="4.8"/><ellipse cx="1720.5" cy="916.7" rx="5.5" ry="4.8"/><ellipse cx="1734.5" cy="916.7" rx="5.5" ry="4.8"/><ellipse cx="1749.3" cy="919.2" rx="5.5" ry="4.8"/><ellipse cx="1763.7" cy="921.2" rx="5.5" ry="4.8"/><ellipse cx="1778.5" cy="919.2" rx="5.5" ry="4.8"/><ellipse cx="1793.7" cy="916.7" rx="5.5" ry="4.8"/><ellipse cx="1808.1" cy="916.7" rx="5.5" ry="4.8"/><ellipse cx="1823.3" cy="919.2" rx="5.5" ry="4.8"/><ellipse cx="1835.7" cy="916.7" rx="5.5" ry="4.8"/><ellipse cx="1850.5" cy="914.6" rx="5.5" ry="4.8"/><ellipse cx="1865.3" cy="916.7" rx="5.5" ry="4.8"/><ellipse cx="1880.1" cy="914.6" rx="5.5" ry="4.8"/><ellipse cx="1895.3" cy="916.7" rx="5.5" ry="4.8"/><ellipse cx="1910.1" cy="916.7" rx="5.5" ry="4.8"/><ellipse cx="1924.5" cy="919.2" rx="5.5" ry="4.8"/><ellipse cx="1939.3" cy="914.6" rx="5.5" ry="4.8"/><ellipse cx="1954.1" cy="914.6" rx="5.5" ry="4.8"/><ellipse cx="1968.9" cy="914.6" rx="5.5" ry="4.8"/><ellipse cx="1982.1" cy="914.6" rx="5.5" ry="4.8"/><ellipse cx="1996.9" cy="916.7" rx="5.5" ry="4.8"/><ellipse cx="2011.3" cy="914.6" rx="5.5" ry="4.8"/><ellipse cx="2026.1" cy="912.6" rx="5.5" ry="4.8"/><ellipse cx="2040.5" cy="914.6" rx="5.5" ry="4.8"/><ellipse cx="2055.7" cy="916.7" rx="5.5" ry="4.8"/><ellipse cx="2070.1" cy="914.6" rx="5.5" ry="4.8"/><ellipse cx="2084.9" cy="916.7" rx="5.5" ry="4.8"/><ellipse cx="2100.1" cy="914.6" rx="5.5" ry="4.8"/><ellipse cx="2114.5" cy="914.6" rx="5.5" ry="4.8"/><ellipse cx="2126.0" cy="912.6" rx="5.5" ry="4.8"/><ellipse cx="2143.3" cy="916.7" rx="5.5" ry="4.8"/><ellipse cx="2157.7" cy="914.6" rx="5.5" ry="4.8"/><ellipse cx="2172.1" cy="914.6" rx="5.5" ry="4.8"/><ellipse cx="2186.9" cy="914.6" rx="5.5" ry="4.8"/><ellipse cx="2201.7" cy="916.7" rx="5.5" ry="4.8"/><ellipse cx="2216.5" cy="912.2" rx="5.5" ry="4.8"/><ellipse cx="2230.9" cy="907.2" rx="5.5" ry="4.8"/><ellipse cx="2245.3" cy="914.6" rx="5.5" ry="4.8"/><ellipse cx="2261.3" cy="904.0" rx="5.5" ry="4.8"/></g>
<g fill="#000"><ellipse cx="1546.1" cy="1313.6" rx="5.5" ry="4.8"/><ellipse cx="1558.5" cy="1316.0" rx="5.5" ry="4.8"/><ellipse cx="1572.8" cy="1310.7" rx="5.5" ry="4.8"/><ellipse cx="1588.9" cy="1304.5" rx="5.5" ry="4.8"/><ellipse cx="1603.3" cy="1302.0" rx="5.5" ry="4.8"/><ellipse cx="1616.9" cy="1304.5" rx="5.5" ry="4.8"/><ellipse cx="1630.4" cy="1307.0" rx="5.5" ry="4.8"/><ellipse cx="1645.6" cy="1308.6" rx="5.5" ry="4.8"/><ellipse cx="1660.0" cy="1307.0" rx="5.5" ry="4.8"/><ellipse cx="1674.4" cy="1307.0" rx="5.5" ry="4.8"/><ellipse cx="1688.0" cy="1308.6" rx="5.5" ry="4.8"/><ellipse cx="1702.4" cy="1307.0" rx="5.5" ry="4.8"/><ellipse cx="1717.6" cy="1307.0" rx="5.5" ry="4.8"/><ellipse cx="1732.8" cy="1302.0" rx="5.5" ry="4.8"/><ellipse cx="1744.4" cy="1302.0" rx="5.5" ry="4.8"/><ellipse cx="1759.2" cy="1304.5" rx="5.5" ry="4.8"/><ellipse cx="1774.0" cy="1302.0" rx="5.5" ry="4.8"/><ellipse cx="1788.8" cy="1302.0" rx="5.5" ry="4.8"/><ellipse cx="1803.2" cy="1302.0" rx="5.5" ry="4.8"/><ellipse cx="1816.3" cy="1296.3" rx="5.5" ry="4.8"/><ellipse cx="1830.7" cy="1297.9" rx="5.5" ry="4.8"/><ellipse cx="1846.4" cy="1294.2" rx="5.5" ry="4.8"/><ellipse cx="1859.5" cy="1292.2" rx="5.5" ry="4.8"/><ellipse cx="1871.9" cy="1298.3" rx="5.5" ry="4.8"/><ellipse cx="1888.3" cy="1286.0" rx="5.5" ry="4.8"/><ellipse cx="1901.9" cy="1282.7" rx="5.5" ry="4.8"/><ellipse cx="1917.1" cy="1276.5" rx="5.5" ry="4.8"/><ellipse cx="1930.7" cy="1275.7" rx="5.5" ry="4.8"/><ellipse cx="1943.8" cy="1264.6" rx="5.5" ry="4.8"/><ellipse cx="1959.0" cy="1257.2" rx="5.5" ry="4.8"/><ellipse cx="1973.8" cy="1255.2" rx="5.5" ry="4.8"/><ellipse cx="1989.1" cy="1252.3" rx="5.5" ry="4.8"/><ellipse cx="2001.4" cy="1249.8" rx="5.5" ry="4.8"/><ellipse cx="2014.6" cy="1249.0" rx="5.5" ry="4.8"/><ellipse cx="2031.0" cy="1257.2" rx="5.5" ry="4.8"/><ellipse cx="2045.4" cy="1259.3" rx="5.5" ry="4.8"/><ellipse cx="2060.2" cy="1263.4" rx="5.5" ry="4.8"/><ellipse cx="2073.4" cy="1276.5" rx="5.5" ry="4.8"/><ellipse cx="2087.8" cy="1279.0" rx="5.5" ry="4.8"/><ellipse cx="2102.2" cy="1280.7" rx="5.5" ry="4.8"/><ellipse cx="2116.6" cy="1290.1" rx="5.5" ry="4.8"/><ellipse cx="2128.9" cy="1284.8" rx="5.5" ry="4.8"/><ellipse cx="2145.4" cy="1294.2" rx="5.5" ry="4.8"/><ellipse cx="2159.8" cy="1292.2" rx="5.5" ry="4.8"/><ellipse cx="2174.1" cy="1296.3" rx="5.5" ry="4.8"/><ellipse cx="2188.5" cy="1292.2" rx="5.5" ry="4.8"/><ellipse cx="2201.7" cy="1298.3" rx="5.5" ry="4.8"/><ellipse cx="2216.5" cy="1288.9" rx="5.5" ry="4.8"/><ellipse cx="2230.5" cy="1294.2" rx="5.5" ry="4.8"/><ellipse cx="2246.1" cy="1304.5" rx="5.5" ry="4.8"/><ellipse cx="2261.3" cy="1304.5" rx="5.5" ry="4.8"/></g>
<g fill="#000"><ellipse cx="1546.1" cy="1686.6" rx="5.5" ry="4.8"/><ellipse cx="1559.3" cy="1683.3" rx="5.5" ry="4.8"/><ellipse cx="1573.7" cy="1676.3" rx="5.5" ry="4.8"/><ellipse cx="1588.1" cy="1675.5" rx="5.5" ry="4.8"/><ellipse cx="1603.3" cy="1680.4" rx="5.5" ry="4.8"/><ellipse cx="1616.0" cy="1671.4" rx="5.5" ry="4.8"/><ellipse cx="1631.2" cy="1662.7" rx="5.5" ry="4.8"/><ellipse cx="1645.6" cy="1675.5" rx="5.5" ry="4.8"/><ellipse cx="1660.0" cy="1677.5" rx="5.5" ry="4.8"/><ellipse cx="1675.3" cy="1677.5" rx="5.5" ry="4.8"/><ellipse cx="1688.0" cy="1674.2" rx="5.5" ry="4.8"/><ellipse cx="1702.4" cy="1673.4" rx="5.5" ry="4.8"/><ellipse cx="1717.6" cy="1675.5" rx="5.5" ry="4.8"/><ellipse cx="1732.0" cy="1683.3" rx="5.5" ry="4.8"/><ellipse cx="1744.4" cy="1674.2" rx="5.5" ry="4.8"/><ellipse cx="1758.7" cy="1675.5" rx="5.5" ry="4.8"/><ellipse cx="1774.0" cy="1680.4" rx="5.5" ry="4.8"/><ellipse cx="1788.8" cy="1677.5" rx="5.5" ry="4.8"/><ellipse cx="1803.2" cy="1671.4" rx="5.5" ry="4.8"/><ellipse cx="1815.1" cy="1674.2" rx="5.5" ry="4.8"/><ellipse cx="1830.7" cy="1671.4" rx="5.5" ry="4.8"/><ellipse cx="1845.1" cy="1669.3" rx="5.5" ry="4.8"/><ellipse cx="1859.5" cy="1669.3" rx="5.5" ry="4.8"/><ellipse cx="1872.7" cy="1667.2" rx="5.5" ry="4.8"/><ellipse cx="1888.3" cy="1666.0" rx="5.5" ry="4.8"/><ellipse cx="1902.7" cy="1660.7" rx="5.5" ry="4.8"/><ellipse cx="1917.9" cy="1662.7" rx="5.5" ry="4.8"/><ellipse cx="1930.7" cy="1654.9" rx="5.5" ry="4.8"/><ellipse cx="1943.8" cy="1644.6" rx="5.5" ry="4.8"/><ellipse cx="1959.0" cy="1642.2" rx="5.5" ry="4.8"/><ellipse cx="1973.8" cy="1636.0" rx="5.5" ry="4.8"/><ellipse cx="1989.1" cy="1639.3" rx="5.5" ry="4.8"/><ellipse cx="2001.4" cy="1637.2" rx="5.5" ry="4.8"/><ellipse cx="2015.8" cy="1635.2" rx="5.5" ry="4.8"/><ellipse cx="2031.0" cy="1631.9" rx="5.5" ry="4.8"/><ellipse cx="2045.4" cy="1635.2" rx="5.5" ry="4.8"/><ellipse cx="2061.0" cy="1631.9" rx="5.5" ry="4.8"/><ellipse cx="2073.4" cy="1636.0" rx="5.5" ry="4.8"/><ellipse cx="2087.8" cy="1627.8" rx="5.5" ry="4.8"/><ellipse cx="2102.2" cy="1635.2" rx="5.5" ry="4.8"/><ellipse cx="2116.6" cy="1631.9" rx="5.5" ry="4.8"/><ellipse cx="2131.0" cy="1634.3" rx="5.5" ry="4.8"/><ellipse cx="2145.4" cy="1635.2" rx="5.5" ry="4.8"/><ellipse cx="2159.8" cy="1637.2" rx="5.5" ry="4.8"/><ellipse cx="2174.1" cy="1635.2" rx="5.5" ry="4.8"/><ellipse cx="2190.6" cy="1630.2" rx="5.5" ry="4.8"/><ellipse cx="2200.1" cy="1630.2" rx="5.5" ry="4.8"/><ellipse cx="2216.5" cy="1637.2" rx="5.5" ry="4.8"/><ellipse cx="2230.5" cy="1631.9" rx="5.5" ry="4.8"/><ellipse cx="2246.1" cy="1631.9" rx="5.5" ry="4.8"/><ellipse cx="2261.3" cy="1631.9" rx="5.5" ry="4.8"/></g>
<text transform="translate(1787.55,1232.80) scale(1.1211,1)" font-family='"Liberation Sans", sans-serif' font-size="43.5" fill="#222" stroke="#222" stroke-width="0.8" stroke-linejoin="round">50pm</text>
<text transform="translate(1820.08,1413.00) scale(1.0912,1)" font-family='"Liberation Sans", sans-serif' font-size="43.5" fill="#222" stroke="#222" stroke-width="0.8" stroke-linejoin="round">Heat</text>
<text transform="translate(1704.91,1659.30) scale(1.1130,1)" font-family='"Liberation Sans", sans-serif' font-size="43.5" fill="#222" stroke="#222" stroke-width="0.8" stroke-linejoin="round">45pm</text>
<text transform="translate(2013.46,1774.50) scale(1.1430,1)" font-family='"Liberation Sans", sans-serif' font-size="43.5" fill="#222" stroke="#222" stroke-width="0.8" stroke-linejoin="round">Strain</text>
<text transform="translate(1470.40,802.60) scale(0.9284,1)" font-family='"Liberation Sans", sans-serif' font-size="43" fill="#000" stroke="#000" stroke-width="1.2" stroke-linejoin="round">0.1</text>
<text transform="translate(1506.91,942.40) scale(0.9254,1)" font-family='"Liberation Sans", sans-serif' font-size="43" fill="#000" stroke="#000" stroke-width="1.2" stroke-linejoin="round">0</text>
<text transform="translate(1441.56,1079.80) scale(0.9960,1)" font-family='"Liberation Sans", sans-serif' font-size="43" fill="#000" stroke="#000" stroke-width="1.2" stroke-linejoin="round">−0.1</text>
<text transform="translate(1470.40,1184.40) scale(0.9284,1)" font-family='"Liberation Sans", sans-serif' font-size="43" fill="#000" stroke="#000" stroke-width="1.2" stroke-linejoin="round">0.1</text>
<text transform="translate(1506.91,1323.60) scale(0.9254,1)" font-family='"Liberation Sans", sans-serif' font-size="43" fill="#000" stroke="#000" stroke-width="1.2" stroke-linejoin="round">0</text>
<text transform="translate(1441.56,1461.00) scale(0.9960,1)" font-family='"Liberation Sans", sans-serif' font-size="43" fill="#000" stroke="#000" stroke-width="1.2" stroke-linejoin="round">−0.1</text>
<text transform="translate(1470.40,1567.00) scale(0.9284,1)" font-family='"Liberation Sans", sans-serif' font-size="43" fill="#000" stroke="#000" stroke-width="1.2" stroke-linejoin="round">0.1</text>
<text transform="translate(1506.91,1704.25) scale(0.9254,1)" font-family='"Liberation Sans", sans-serif' font-size="43" fill="#000" stroke="#000" stroke-width="1.2" stroke-linejoin="round">0</text>
<text transform="translate(1441.56,1841.00) scale(0.9960,1)" font-family='"Liberation Sans", sans-serif' font-size="43" fill="#000" stroke="#000" stroke-width="1.2" stroke-linejoin="round">−0.1</text>
<text transform="translate(1602.05,1111.80) scale(1.0646,1)" font-family='"Liberation Sans", sans-serif' font-size="43" fill="#000" stroke="#000" stroke-width="1.2" stroke-linejoin="round">8.72</text>
<text transform="translate(1748.08,1111.80) scale(1.0481,1)" font-family='"Liberation Sans", sans-serif' font-size="43" fill="#000" stroke="#000" stroke-width="1.2" stroke-linejoin="round">8.74</text>
<text transform="translate(1894.06,1111.80) scale(1.0603,1)" font-family='"Liberation Sans", sans-serif' font-size="43" fill="#000" stroke="#000" stroke-width="1.2" stroke-linejoin="round">8.76</text>
<text transform="translate(2040.07,1111.80) scale(1.0565,1)" font-family='"Liberation Sans", sans-serif' font-size="43" fill="#000" stroke="#000" stroke-width="1.2" stroke-linejoin="round">8.78</text>
<text transform="translate(2198.44,1111.80) scale(1.0158,1)" font-family='"Liberation Sans", sans-serif' font-size="43" fill="#000" stroke="#000" stroke-width="1.2" stroke-linejoin="round">8.8</text>
<text transform="translate(1555.31,1491.80) scale(1.0504,1)" font-family='"Liberation Sans", sans-serif' font-size="43" fill="#000" stroke="#000" stroke-width="1.2" stroke-linejoin="round">12.14</text>
<text transform="translate(1700.53,1491.80) scale(1.0443,1)" font-family='"Liberation Sans", sans-serif' font-size="43" fill="#000" stroke="#000" stroke-width="1.2" stroke-linejoin="round">12.16</text>
<text transform="translate(1845.36,1491.80) scale(1.0365,1)" font-family='"Liberation Sans", sans-serif' font-size="43" fill="#000" stroke="#000" stroke-width="1.2" stroke-linejoin="round">12.18</text>
<text transform="translate(2003.72,1491.80) scale(1.0171,1)" font-family='"Liberation Sans", sans-serif' font-size="43" fill="#000" stroke="#000" stroke-width="1.2" stroke-linejoin="round">12.2</text>
<text transform="translate(2131.15,1491.80) scale(1.0398,1)" font-family='"Liberation Sans", sans-serif' font-size="43" fill="#000" stroke="#000" stroke-width="1.2" stroke-linejoin="round">12.22</text>
<text transform="translate(1486.63,1871.80) scale(1.0443,1)" font-family='"Liberation Sans", sans-serif' font-size="43" fill="#000" stroke="#000" stroke-width="1.2" stroke-linejoin="round">15.36</text>
<text transform="translate(1630.66,1871.80) scale(1.0365,1)" font-family='"Liberation Sans", sans-serif' font-size="43" fill="#000" stroke="#000" stroke-width="1.2" stroke-linejoin="round">15.38</text>
<text transform="translate(1788.69,1871.80) scale(0.9946,1)" font-family='"Liberation Sans", sans-serif' font-size="43" fill="#000" stroke="#000" stroke-width="1.2" stroke-linejoin="round">15.4</text>
<text transform="translate(1914.42,1871.80) scale(1.0476,1)" font-family='"Liberation Sans", sans-serif' font-size="43" fill="#000" stroke="#000" stroke-width="1.2" stroke-linejoin="round">15.42</text>
<text transform="translate(2059.14,1871.80) scale(1.0426,1)" font-family='"Liberation Sans", sans-serif' font-size="43" fill="#000" stroke="#000" stroke-width="1.2" stroke-linejoin="round">15.44</text>
<text transform="translate(2202.33,1871.80) scale(1.0443,1)" font-family='"Liberation Sans", sans-serif' font-size="43" fill="#000" stroke="#000" stroke-width="1.2" stroke-linejoin="round">15.46</text>
<text transform="translate(1730.07,1937.00) scale(1.0898,1)" font-family='"Liberation Sans", sans-serif' font-size="52" font-weight="bold" fill="#000" stroke="#000" stroke-width="0.4" stroke-linejoin="round">Position</text>
<text transform="translate(1969.22,1932.30) scale(1.3208,1)" font-family='"Liberation Sans", sans-serif' font-size="52" font-weight="bold" fill="#000" stroke="#000" stroke-width="0.4" stroke-linejoin="round">[</text>
<text transform="translate(1992.50,1937.00) scale(1.0366,1)" font-family='"Liberation Sans", sans-serif' font-size="52" font-weight="bold" fill="#000" stroke="#000" stroke-width="0.4" stroke-linejoin="round">m</text>
<text transform="translate(2042.99,1932.30) scale(1.2482,1)" font-family='"Liberation Sans", sans-serif' font-size="52" font-weight="bold" fill="#000" stroke="#000" stroke-width="0.4" stroke-linejoin="round">]</text>
<text transform="translate(44.97,966.20) scale(0.8977,1)" font-family='"Liberation Sans", sans-serif' font-size="66.5" fill="#000" stroke="#000" stroke-width="0.9" stroke-linejoin="round">FBG #1</text>
<text transform="translate(42.82,1344.80) scale(0.8889,1)" font-family='"Liberation Sans", sans-serif' font-size="66.5" fill="#000" stroke="#000" stroke-width="0.9" stroke-linejoin="round">FBG #2</text>
<text transform="translate(42.83,1729.10) scale(0.8869,1)" font-family='"Liberation Sans", sans-serif' font-size="66.5" fill="#000" stroke="#000" stroke-width="0.9" stroke-linejoin="round">FBG #3</text>
</g>
</svg>
</body></html>
